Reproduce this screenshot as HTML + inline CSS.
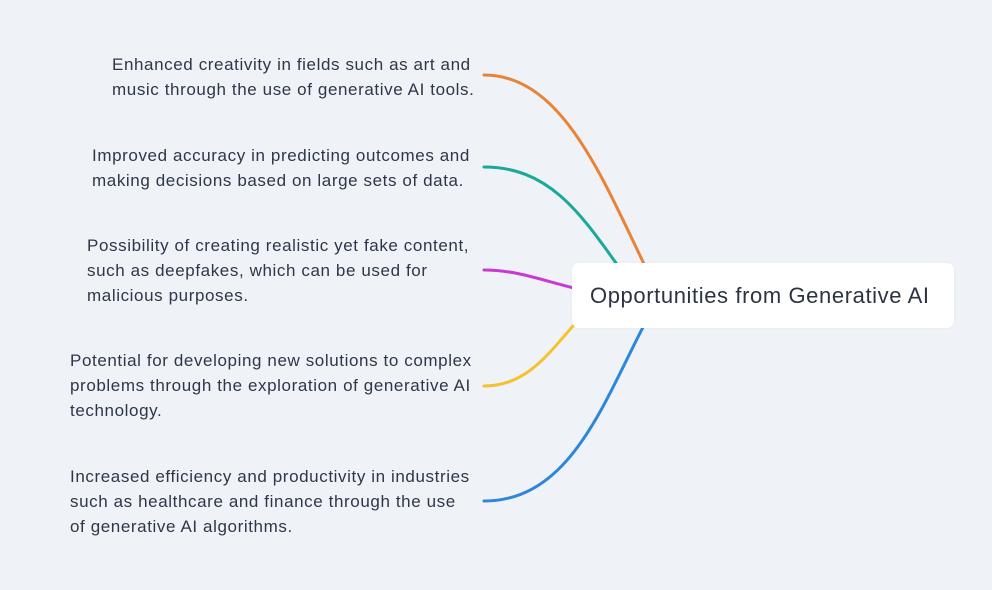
<!DOCTYPE html>
<html><head><meta charset="utf-8"><style>
html,body{margin:0;padding:0}
body{width:992px;height:590px;background:#eff3f7;position:relative;overflow:hidden;font-family:"Liberation Sans",sans-serif;color:#2e3748}
.t{position:absolute;font-size:17px;letter-spacing:0.6px;line-height:25px;white-space:nowrap}
.box{position:absolute;left:572px;top:263px;width:382px;height:65px;background:#fff;border-radius:7px;box-shadow:0 0 2px rgba(0,0,0,0.06);font-size:22px;letter-spacing:0.6px;line-height:65px;text-align:left;padding-left:18px;box-sizing:border-box;color:#2b3442;white-space:nowrap}
svg{position:absolute;left:0;top:0}
</style></head><body>
<svg width="992" height="590">
<g fill="none" stroke-width="3" stroke-linecap="round">
<path d="M484 75 C570 75,610 200,660 296" stroke="#e8843a"/>
<path d="M484 167 C560 167,590 230,640 296" stroke="#1aa89a"/>
<path d="M484 270 C530 270,560 290,620 296" stroke="#c73ad6"/>
<path d="M484 386 C540 386,560 330,600 300" stroke="#f6c12c"/>
<path d="M484 501 C580 501,610 380,660 296" stroke="#2e86dc"/>
</g>
</svg>
<div class="box">Opportunities from Generative AI</div>
<div class="t" style="left:112px;top:52px">Enhanced creativity in fields such as art and<br>music through the use of generative AI tools.</div>
<div class="t" style="left:92px;top:143px">Improved accuracy in predicting outcomes and<br>making decisions based on large sets of data.</div>
<div class="t" style="left:87px;top:233px">Possibility of creating realistic yet fake content,<br>such as deepfakes, which can be used for<br>malicious purposes.</div>
<div class="t" style="left:70px;top:348px">Potential for developing new solutions to complex<br>problems through the exploration of generative AI<br>technology.</div>
<div class="t" style="left:70px;top:464px">Increased efficiency and productivity in industries<br>such as healthcare and finance through the use<br>of generative AI algorithms.</div>
</body></html>
